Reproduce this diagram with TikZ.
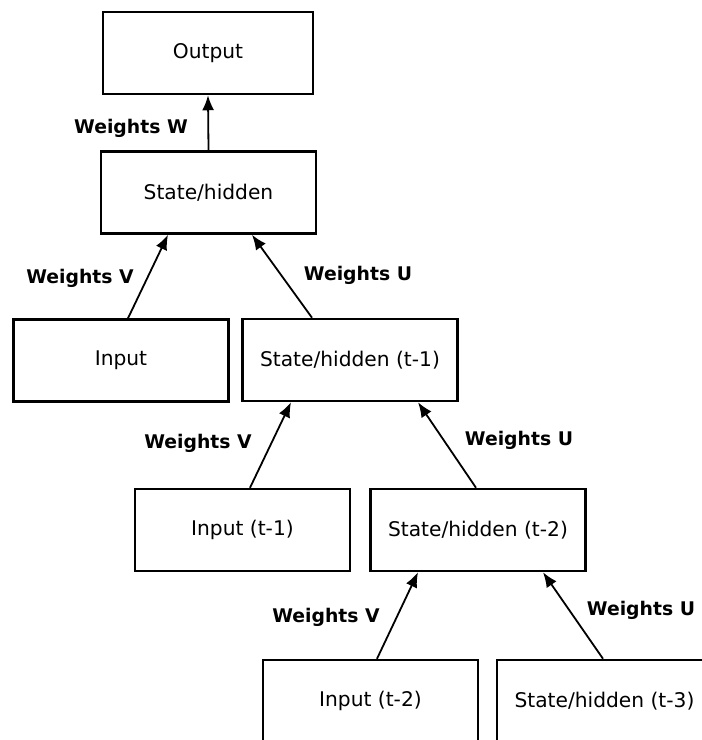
\documentclass[tikz,border=0pt]{standalone}
\usepackage{fontspec}
\setmainfont{DejaVu Sans}
\usetikzlibrary{arrows.meta,calc}
\begin{document}
\begin{tikzpicture}[x=1pt,y=-1pt,
  box/.style={draw=black,line width=2.5pt,minimum width=215pt,minimum height=82pt,inner sep=0pt,font=\fontsize{20.2}{24}\selectfont},
  conn/.style={line width=1.8pt,-{Latex[length=15pt,width=12pt]}},
  lbl/.style={inner sep=0pt,font=\fontsize{18.8}{22}\selectfont\bfseries}]
\useasboundingbox (0,0) rectangle (702,740);
\clip (0,0) rectangle (702,740);
\fill[white] (0,0) rectangle (702,740);
\node[box,minimum width=210pt] (out) at (208,53) {Output};
\node[box] (sh0) at (208.5,192.5) {State/hidden};
\node[box] (in0) at (121,360.5) {Input};
\node[box] (sh1) at (350,360) {State/hidden (t-1)};
\node[box] (in1) at (242.5,530) {Input (t-1)};
\node[box] (sh2) at (478,530) {State/hidden (t-2)};
\node[box] (in2) at (370.5,701) {Input (t-2)};
\node[box] (sh3) at (604.5,701) {State/hidden (t-3)};
\draw[conn] (sh0.north) -- (out.south);
\draw[conn] ([xshift=7pt]in0.north) -- ([xshift=-40.5pt]sh0.south);
\draw[conn] ([xshift=-38pt]sh1.north) -- ([xshift=43.5pt]sh0.south);
\draw[conn] ([xshift=7.5pt]in1.north) -- ([xshift=-59pt]sh1.south);
\draw[conn] ([xshift=-2pt]sh2.north) -- ([xshift=68pt]sh1.south);
\draw[conn] ([xshift=6.5pt]in2.north) -- ([xshift=-60pt]sh2.south);
\draw[conn] ([xshift=-1.5pt]sh3.north) -- ([xshift=65pt]sh2.south);
\node[lbl] (lw) at (131,128) {Weights W};
\node[lbl] (lv0) at (80,278) {Weights V};
\node[lbl] (lu0) at (358,275) {Weights U};
\node[lbl] (lv1) at (198,443) {Weights V};
\node[lbl] (lu1) at (519,440) {Weights U};
\node[lbl] (lv2) at (326,617) {Weights V};
\node[lbl] (lu2) at (641,610) {Weights U};
\end{tikzpicture}
\end{document}
